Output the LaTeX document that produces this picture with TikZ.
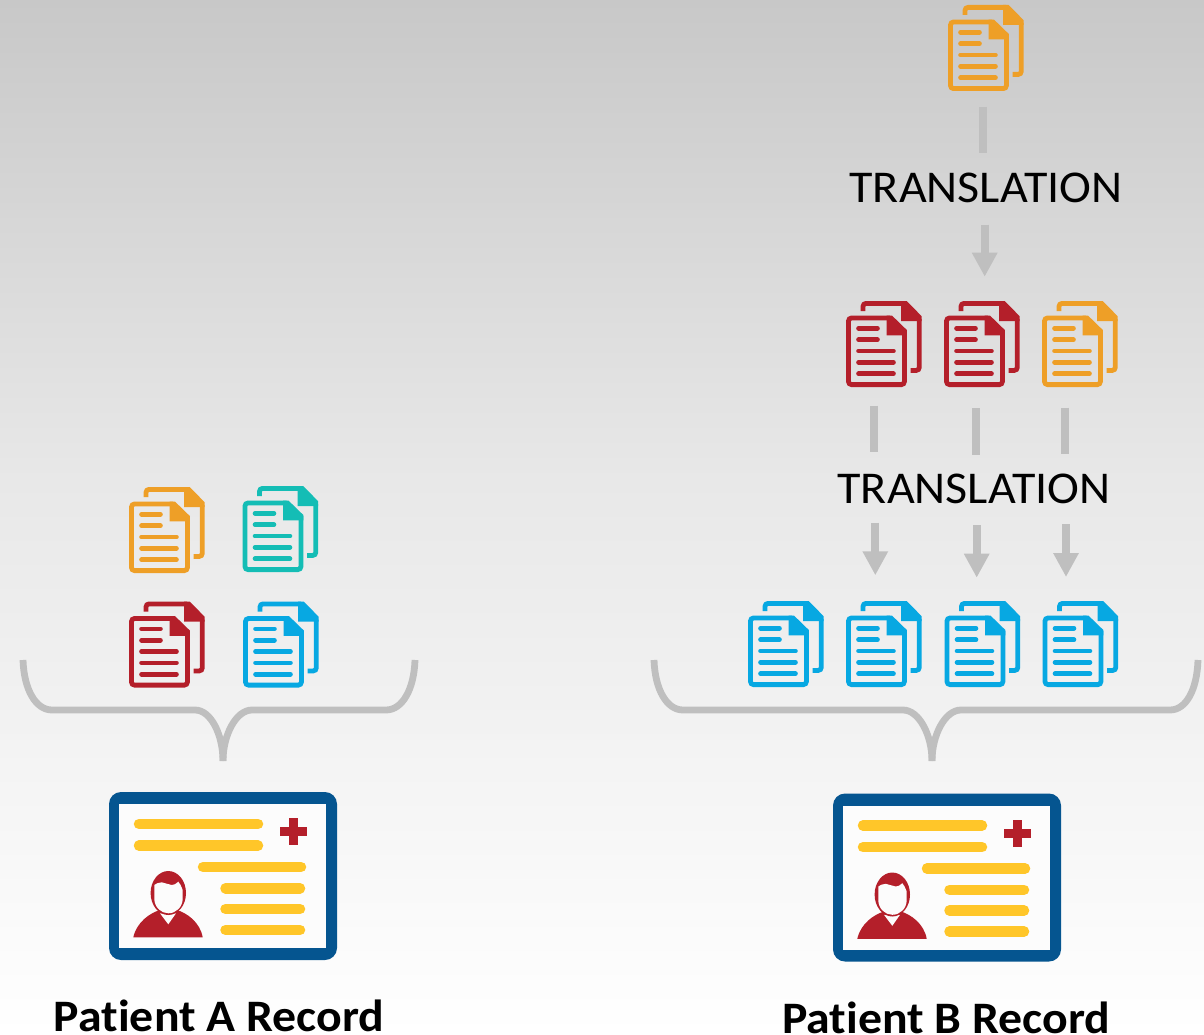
\documentclass[tikz,border=0pt]{standalone}
\usepackage{fontspec}
\setmainfont[RawFeature={-liga;-clig}]{Carlito}
\usetikzlibrary{arrows.meta,calc}
\definecolor{cOrange}{HTML}{EE9F27}
\definecolor{cTeal}{HTML}{14BDB5}
\definecolor{cRed}{HTML}{B41F2A}
\definecolor{cBlue}{HTML}{07A8E2}
\definecolor{cNavy}{HTML}{055590}
\definecolor{cYellow}{HTML}{FFC629}
\definecolor{cGray}{HTML}{BFBFBF}
\definecolor{cTop}{HTML}{C8C8C8}
\definecolor{cMid}{HTML}{E8E8E8}
\definecolor{cPaper}{HTML}{FCFCFC}
\pgfdeclareverticalshading{pagefade}{100bp}{color(0bp)=(white); color(25bp)=(white); color(51.8bp)=(cMid); color(75bp)=(cTop); color(100bp)=(cTop)}
\tikzset{
  iconbox/.style={minimum width=76pt,minimum height=86pt,inner sep=0pt,outer sep=0pt},
  cardbox/.style={minimum width=228pt,minimum height=168pt,inner sep=0pt,outer sep=0pt},
  stemline/.style={line width=8pt,cGray},
  flowarrow/.style={line width=8pt,cGray,-{Triangle[width=24pt,length=24pt]}},
  bracket/.style={line width=6.8pt,cGray},
  steplabel/.style={font=\fontsize{45.5}{50}\selectfont,text=black,inner sep=0pt,anchor=base},
  recordlabel/.style={font=\fontsize{45}{50}\selectfont\bfseries,text=black,inner sep=0pt,anchor=base},
  docstroke/.style={line width=4.8pt,rounded corners=3pt},
  docline/.style={line width=4.6pt,line cap=round},
  cardline/.style={line width=10.5pt,line cap=round,cYellow},
}
\newcommand{\docicon}[4]{%
  \node[iconbox] (#1) at (#2+38,#3+43) {};
  \begin{scope}[shift={(#2,#3)},color=#4]
    \draw[docstroke] (17,10) -- (17,2.4) -- (58,2.4);
    \fill (55,0) -- (60.7,0) -- (75.7,15.3) -- (75.7,20) -- (55,20) -- cycle;
    \draw[docstroke] (73.3,18) -- (73.3,69.4) -- (64.7,69.4);
    \draw[docstroke] (44,17) -- (2.5,17) -- (2.5,83.6) -- (58.4,83.6) -- (58.4,30);
    \fill (40.7,14.6) -- (46,14.6) -- (60.8,29) -- (60.8,34.4) -- (40.7,34.4) -- cycle;
    \draw[docline] (12.5,27.3) -- (31.5,27.3);
    \draw[docline] (12.5,38.7) -- (31.5,38.7);
    \draw[docline] (12.5,50) -- (47.5,50);
    \draw[docline] (12.5,61.3) -- (47.5,61.3);
    \draw[docline] (12.5,72.7) -- (47.5,72.7);
  \end{scope}}
\newcommand{\cardicon}[3]{%
  \node[cardbox] (#1) at (#2+114,#3+84) {};
  \begin{scope}[shift={(#2,#3)}]
    \fill[cNavy,rounded corners=12pt] (0,0) rectangle (228,168);
    \fill[cPaper] (10.4,12) rectangle (217,156);
    \draw[cardline] (30,32) -- (149,32);
    \draw[cardline] (30,53.7) -- (149,53.7);
    \draw[cardline] (94,75) -- (192,75);
    \draw[cardline] (116.5,96.3) -- (191,96.3);
    \draw[cardline] (116.5,117) -- (191,117);
    \draw[cardline] (116.5,138) -- (191,138);
    \fill[cRed] (171,35.3) rectangle (197.7,44);
    \fill[cRed] (180,26.3) rectangle (188.7,53);
    \fill[cRed] (24.3,145.3) .. controls (27.7,130) and (41,121) .. (51,118) -- (68,118)
      .. controls (77.7,121) and (91,130) .. (93.7,145.3) -- cycle;
    \fill[cPaper] (51,121.3) -- (67,121.3) -- (59.3,132.3) -- cycle;
    \fill[cRed] (59.3,101) ellipse [x radius=17.7,y radius=22];
    \fill[cPaper] (45.3,93) -- (45.3,107)
      .. controls (45.5,115) and (52,121.3) .. (59.3,121.3)
      .. controls (67,121.3) and (73.5,115) .. (73.7,107)
      -- (73.7,98) .. controls (72,94) and (71,91) .. (69.3,89.7)
      .. controls (67,92) and (65,93) .. (62.7,93)
      .. controls (59,92.5) and (56,90.8) .. (52.7,90.3)
      .. controls (49.5,90.5) and (47,91.5) .. (45.3,93) -- cycle;
  \end{scope}}
\begin{document}
\begin{tikzpicture}[x=1pt,y=-1pt]
\useasboundingbox (0,0) rectangle (1204,1035);
\shade[shading=pagefade] (0,0) rectangle (1204,1035);

% Patient A
\docicon{aO}{129}{487}{cOrange}
\docicon{aT}{242.5}{486}{cTeal}
\docicon{aR}{129}{601.5}{cRed}
\docicon{aB}{243}{601.5}{cBlue}
\draw[bracket] (23,660) .. controls (24,690) and (36,710) .. (52,710) -- (195,710)
  .. controls (211,710) and (223,735) .. (223,761);
\draw[bracket] (223,761) .. controls (223,735) and (236,710) .. (252,710) -- (386,710)
  .. controls (402,710) and (414,690) .. (415,660);
\cardicon{cardA}{109}{792}
\node[recordlabel] (recA) at (219,1031) {\scalebox{1.062}[1]{Patient A Record}};

% Patient B
\docicon{bTop}{948}{5}{cOrange}
\node[steplabel] (trOne) at (986,202.5) {\scalebox{1.056}[1]{TRANSLATION}};
\docicon{bM1}{846}{301}{cRed}
\docicon{bM2}{944}{301}{cRed}
\docicon{bM3}{1042}{301}{cOrange}
\node[steplabel] (trTwo) at (974,503.5) {\scalebox{1.056}[1]{TRANSLATION}};
\docicon{bL1}{748}{601}{cBlue}
\docicon{bL2}{846}{601}{cBlue}
\docicon{bL3}{944.5}{601}{cBlue}
\docicon{bL4}{1042.5}{601}{cBlue}
\draw[bracket] (654,660) .. controls (655,690) and (667,710) .. (683,710) -- (903,710)
  .. controls (919,710) and (932,735) .. (932,761);
\draw[bracket] (932,761) .. controls (932,735) and (945,710) .. (961,710) -- (1170,710)
  .. controls (1186,710) and (1197,690) .. (1198,660);
\cardicon{cardB}{833}{793.5}
\node[recordlabel] (recB) at (946,1033) {\scalebox{1.062}[1]{Patient B Record}};

% connectors
\draw[stemline] ($(bTop.south)+(-2.7,15.7)$) -- ($(bTop.south)+(-2.7,62.3)$);
\draw[flowarrow] ($(trOne.south)+(-1.3,21.5)$) -- ($(bM2.north)+(2.7,-24.3)$);
\draw[stemline] ($(bM1.south)+(-10,18.7)$) -- ($(bM1.south)+(-10,65)$);
\draw[stemline] ($(bM2.south)+(-6.3,21.3)$) -- ($(bM2.south)+(-6.3,68)$);
\draw[stemline] ($(bM3.south)+(-15.3,20.7)$) -- ($(bM3.south)+(-15.3,67.3)$);
\draw[flowarrow] ($(bL2.north)+(-8.7,-78.3)$) -- ($(bL2.north)+(-8.7,-25.7)$);
\draw[flowarrow] ($(bL3.north)+(-5.8,-76)$) -- ($(bL3.north)+(-5.8,-23.3)$);
\draw[flowarrow] ($(bL4.north)+(-14.5,-76.7)$) -- ($(bL4.north)+(-14.5,-24)$);
\end{tikzpicture}
\end{document}
